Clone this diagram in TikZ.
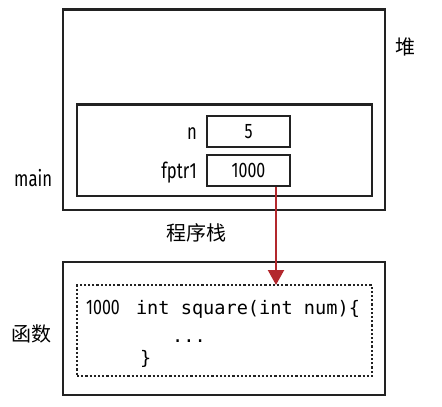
\documentclass[tikz,border=0pt]{standalone}
\usepackage{fontspec}
\setmainfont[FakeStretch=0.76]{Fira Sans}
\setmonofont{DejaVu Sans Mono}
\newfontfamily\cjk{Noto Sans CJK SC}
\usetikzlibrary{arrows.meta}
\definecolor{arrowred}{HTML}{B3282D}
\definecolor{linegray}{HTML}{222222}
\begin{document}
\begin{tikzpicture}[x=1pt,y=-1pt,
  outerbox/.style={draw=linegray,line width=2.8pt},
  innerbox/.style={draw=linegray,line width=2.6pt},
  valbox/.style={draw=linegray,line width=2.6pt,minimum width=83pt,minimum height=31pt,inner sep=0pt,font=\fontsize{21}{24}\selectfont},
  lbl/.style={font=\fontsize{22}{25}\selectfont,inner sep=0pt},
  cjklbl/.style={font=\cjk\fontsize{20}{23}\selectfont,inner sep=0pt},
  code/.style={font=\ttfamily\fontsize{18.6}{22}\selectfont,inner sep=0pt,anchor=base west}]
\useasboundingbox (0,0) rectangle (442,407);
% heap / stack outer box
\draw[outerbox] (63,9.5) rectangle (385,210);
\draw[innerbox] (77,104.5) rectangle (372,196);
\node[valbox] (n) at (248.5,131.5) {5};
\node[valbox] (fptr) at (248.5,170.5) {1000};
\node[lbl,anchor=base east] (nl) at (197,139) {n};
\node[lbl,anchor=base east] (fl) at (197,178) {fptr1};
\node[lbl,anchor=base west] (main) at (14,186) {main};
\node[cjklbl] (heap) at (405,47) {堆};
\node[cjklbl] (stack) at (196,233) {程序栈};
% function box
\draw[outerbox] (63,262) rectangle (385,395);
\node[draw=linegray,line width=2.2pt,dotted,minimum width=295pt,minimum height=91pt,inner sep=0pt] (fbox) at (224.5,330.5) {};
\node[cjklbl] (func) at (32,334) {函数};
\node[code] (c1) at (86,314) {{\rmfamily\fontsize{21}{24}\selectfont 1000}\ \hspace{5pt}int square(int num)\{};
\node[code] (c2) at (172,342) {...};
\node[code] (c3) at (140,364) {\}};
\coordinate (tip) at (276,285);
\draw[arrowred,line width=2.2pt,-{Triangle[length=15pt,width=16pt]}] (fptr.south -| tip) -- (tip);
\end{tikzpicture}
\end{document}
